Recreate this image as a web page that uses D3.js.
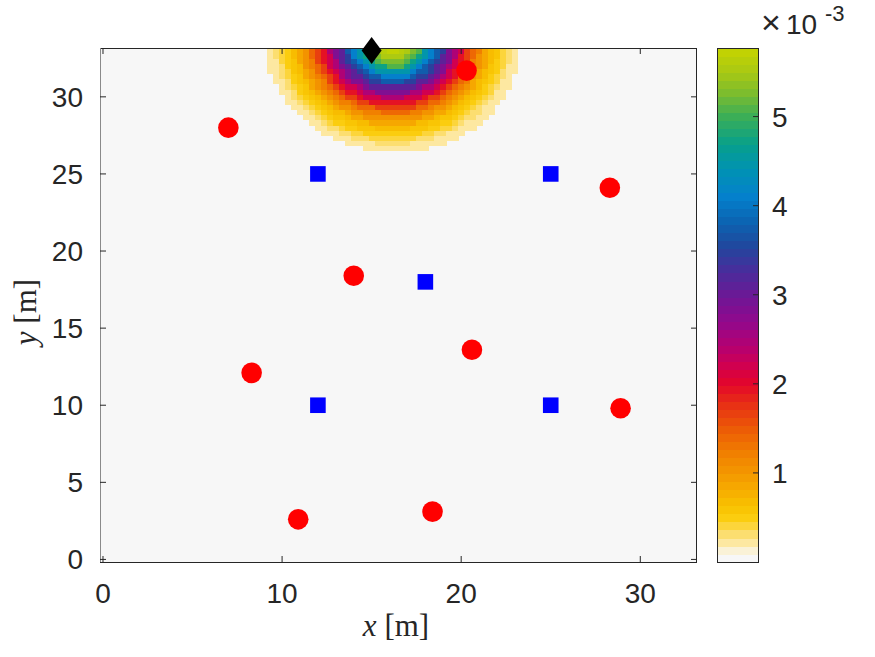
<!DOCTYPE html>
<html>
<head>
<meta charset="utf-8">
<script src="https://cdn.jsdelivr.net/npm/d3@7"></script>
<style>
body { margin: 0; background: #fff; }
text { font-family: "Liberation Sans", Arial, sans-serif; fill: #262626; }
.lbl { font-family: "Liberation Serif", "Times New Roman", serif; }
</style>
</head>
<body>
<div id="chart"></div>
<script>
// sensors (red), anchors (blue), source (black)
var sensorX = [7, 20.3, 28.3, 14.0, 20.6, 8.3, 28.9, 10.9, 18.4];
var sensorY = [28, 31.7, 24.1, 18.4, 13.6, 12.1, 9.8, 2.6, 3.1];
var anchorX = [12, 25, 18, 12, 25];
var anchorY = [25, 25, 18, 10, 10];
var sourceX = [15];
var sourceY = [33];

// field: value (x1e-3) vs distance from its centre, every 0.25 m
var fieldCenter = [16.2, 33.55];
var fieldR = [0, 0.25, 0.5, 0.75, 1, 1.25, 1.5, 1.75, 2, 2.25, 2.5, 2.75, 3, 3.25, 3.5, 3.75,
              4, 4.25, 4.5, 4.75, 5, 5.25, 5.5, 5.75, 6, 6.25, 6.5, 6.75, 7];
var fieldV = [5.77, 5.75, 5.70, 5.62, 5.50, 5.30, 5.05, 4.75, 4.42, 4.08, 3.76, 3.43, 3.11, 2.80, 2.49, 2.20,
              1.93, 1.67, 1.44, 1.23, 1.04, 0.87, 0.72, 0.60, 0.49, 0.40, 0.32, 0.25, 0.20];
var gridStep = 1/3, gridN = 100;

var xTicks = [0, 10, 20, 30];
var yTicks = [0, 5, 10, 15, 20, 25, 30];
var cbTicks = [1, 2, 3, 4, 5];
var cmin = 0, cmax = 5.77;

// colormap stops
var cmapPos = [0, 0.09, 0.16, 0.26, 0.36, 0.47, 0.62, 0.9, 1.2, 1.5, 1.8, 2.0, 2.2, 2.4, 2.7, 3.0, 3.3, 3.55, 3.8, 4.1, 4.4, 4.7, 5.0, 5.25, 5.5, 5.77];
var cmapCol = ["#f7f7f7", "#f7f7f7", "#fcefc6", "#fde48e", "#fcda58", "#fbcf12", "#f9c200", "#f5a200", "#f18200", "#ec5a06", "#e72c16", "#e4062a", "#d2004e", "#b8006e", "#92088c", "#6c1896", "#44309c", "#20489e", "#0c62b0", "#0480cc", "#0092b4", "#08a08a", "#3aae58", "#78bc30", "#a8c814", "#c6d400"];

var nLev = 64;
var cmap = [];
var cInterp = d3.scaleLinear().domain(cmapPos).range(cmapCol).interpolate(d3.interpolateRgb);
for (var k = 0; k < nLev; k++) {
    cmap.push(cInterp(cmin + (k + 0.5) / nLev * (cmax - cmin)));
}
function levelColor(v) {
    var k = Math.floor((v - cmin) / (cmax - cmin) * nLev);
    k = Math.max(0, Math.min(nLev - 1, k));
    return cmap[k];
}

var width = 875, height = 657;
var svg = d3.select("#chart").append("svg").attr("width", width).attr("height", height);

var x = d3.scaleLinear().domain([-gridStep/2, 33 + gridStep/2]).range([100, 697]);
var y = d3.scaleLinear().domain([-gridStep/2, 33 + gridStep/2]).range([562, 48]);

// background = lowest level
svg.append("rect").attr("x", 100).attr("y", 48).attr("width", 597).attr("height", 514)
    .attr("fill", cmap[0]);

var cells = [];
for (var i = 0; i < gridN; i++) {
    for (var j = 0; j < gridN; j++) {
        var cx = i * gridStep, cy = j * gridStep;
        var r = Math.hypot(cx - fieldCenter[0], cy - fieldCenter[1]);
        var idx = Math.round(r / 0.25);
        if (idx < fieldV.length) cells.push({x: cx, y: cy, v: fieldV[idx]});
    }
}
svg.append("g").attr("shape-rendering", "crispEdges")
    .selectAll("rect").data(cells).enter().append("rect")
    .attr("x", function(d) { return x(d.x - gridStep/2); })
    .attr("y", function(d) { return y(d.y + gridStep/2); })
    .attr("width", function(d) { return x(d.x + gridStep/2) - x(d.x - gridStep/2) + 0.5; })
    .attr("height", function(d) { return y(d.y - gridStep/2) - y(d.y + gridStep/2) + 0.5; })
    .attr("fill", function(d) { return levelColor(d.v); });

// box and ticks
var ax = svg.append("g").attr("stroke-width", 1).attr("fill", "none");
ax.append("line").attr("x1", 100).attr("x2", 697).attr("y1", 562.5).attr("y2", 562.5).attr("stroke", "#262626");
ax.append("line").attr("x1", 100).attr("x2", 697).attr("y1", 48.5).attr("y2", 48.5).attr("stroke", "#262626");
ax.append("line").attr("x1", 696.5).attr("x2", 696.5).attr("y1", 48).attr("y2", 562).attr("stroke", "#262626");
ax.append("line").attr("x1", 100.5).attr("x2", 100.5).attr("y1", 48).attr("y2", 562).attr("stroke", "#8a8a8a");

xTicks.forEach(function(t) {
    ax.append("line").attr("x1", x(t)).attr("x2", x(t)).attr("y1", 562).attr("y2", 556).attr("stroke", "#262626");
    ax.append("line").attr("x1", x(t)).attr("x2", x(t)).attr("y1", 48).attr("y2", 54).attr("stroke", "#262626");
    svg.append("text").attr("x", x(t)).attr("y", 603).attr("text-anchor", "middle")
        .attr("font-size", "28px").text(t);
});
yTicks.forEach(function(t) {
    ax.append("line").attr("x1", 100).attr("x2", 106).attr("y1", y(t)).attr("y2", y(t)).attr("stroke", "#262626");
    ax.append("line").attr("x1", 697).attr("x2", 691).attr("y1", y(t)).attr("y2", y(t)).attr("stroke", "#262626");
    svg.append("text").attr("x", 83).attr("y", y(t) + 10).attr("text-anchor", "end")
        .attr("font-size", "28px").text(t);
});

// axis labels
var xl = svg.append("text").attr("class", "lbl").attr("x", 396).attr("y", 636)
    .attr("text-anchor", "middle").attr("font-size", "31px");
xl.append("tspan").attr("font-style", "italic").text("x");
xl.append("tspan").text(" [m]");
var yl = svg.append("text").attr("class", "lbl")
    .attr("transform", "translate(36,312) rotate(-90)")
    .attr("text-anchor", "middle").attr("font-size", "31px");
yl.append("tspan").attr("font-style", "italic").text("y");
yl.append("tspan").text(" [m]");

// markers
svg.append("g").selectAll("circle").data(sensorX).enter().append("circle")
    .attr("cx", function(d) { return x(d); })
    .attr("cy", function(d, i) { return y(sensorY[i]); })
    .attr("r", 10.3).attr("fill", "#ff0000");
svg.append("g").selectAll("rect").data(anchorX).enter().append("rect")
    .attr("x", function(d) { return x(d) - 7.8; })
    .attr("y", function(d, i) { return y(anchorY[i]) - 7.8; })
    .attr("width", 15.6).attr("height", 15.6).attr("fill", "#0000ff");
svg.append("g").selectAll("path").data(sourceX).enter().append("path")
    .attr("transform", function(d, i) { return "translate(" + x(d) + "," + y(sourceY[i]) + ")"; })
    .attr("d", "M0,-13.5L10,0L0,13.5L-10,0Z").attr("fill", "#000");

// colorbar
var cbx = 717, cbw = 41;
var cy2 = d3.scaleLinear().domain([cmin, cmax]).range([562, 48]);
svg.append("g").attr("shape-rendering", "crispEdges")
    .selectAll("rect").data(cmap).enter().append("rect")
    .attr("x", cbx)
    .attr("y", function(d, k) { return cy2(cmin + (k + 1) / nLev * (cmax - cmin)); })
    .attr("width", cbw)
    .attr("height", function(d, k) { return cy2(cmin + k / nLev * (cmax - cmin)) - cy2(cmin + (k + 1) / nLev * (cmax - cmin)) + 0.6; })
    .attr("fill", function(d) { return d; });
svg.append("rect").attr("x", cbx + 0.5).attr("y", 48.5).attr("width", cbw).attr("height", 514)
    .attr("fill", "none").attr("stroke", "#262626");
cbTicks.forEach(function(t) {
    svg.append("line").attr("x1", cbx + cbw).attr("x2", cbx + cbw - 5).attr("y1", cy2(t)).attr("y2", cy2(t))
        .attr("stroke", "#262626");
    svg.append("text").attr("x", 772).attr("y", cy2(t) + 10).attr("font-size", "28px").text(t);
});
svg.append("text").attr("x", 761).attr("y", 34).attr("font-size", "34px").text("\u00d7");
svg.append("text").attr("x", 786).attr("y", 34).attr("font-size", "28px").text("10");
svg.append("text").attr("x", 825).attr("y", 21).attr("font-size", "22px").text("-3");
</script>
</body>
</html>
